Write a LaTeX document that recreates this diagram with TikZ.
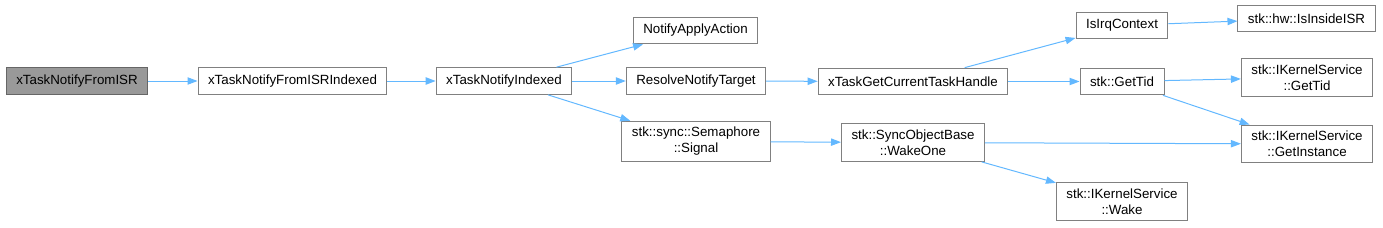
\documentclass[tikz,border=0pt]{standalone}
\usepackage{fontspec}
\setmainfont{Liberation Sans}
\usetikzlibrary{arrows.meta}
\definecolor{cgEdge}{RGB}{99,184,255}
\definecolor{cgLine}{RGB}{128,128,128}
\definecolor{cgRoot}{RGB}{153,153,153}

\begin{document}
\begin{tikzpicture}[x=0.75pt,y=-0.75pt,>={Triangle[length=7.5pt,width=5.5pt]},
  fn/.style={draw=cgLine,fill=white,line width=0.75pt,align=center,inner xsep=7.5pt,inner ysep=4.5pt,
    minimum height=20pt,font=\fontsize{10}{12}\selectfont},
  call/.style={->,draw=cgEdge,line width=0.75pt}]
\useasboundingbox (0,0) rectangle (1383,228);
% callers on the left, callees to the right
\node[fn,fill=cgRoot,draw=black!60] (root) at (77,81) {xTaskNotifyFromISR};
\node[fn] (isrIdx) at (292.5,81) {xTaskNotifyFromISRIndexed};
\node[fn] (notIdx) at (504,81) {xTaskNotifyIndexed};
\node[fn] (applyAct) at (695.5,30.5) {NotifyApplyAction};
\node[fn] (resolve) at (696,81) {ResolveNotifyTarget};
\node[fn] (semSig) at (696,141.5) {stk::sync::Semaphore\\::Signal};
\node[fn] (curTask) at (913,81.5) {xTaskGetCurrentTaskHandle};
\node[fn] (wakeOne) at (913,142.5) {stk::SyncObjectBase\\::WakeOne};
\node[fn] (irqCtx) at (1122,25.5) {IsIrqContext};
\node[fn] (insideISR) at (1306.5,18.5) {stk::hw::IsInsideISR};
\node[fn] (getTid) at (1122,81.5) {stk::GetTid};
\node[fn] (ksGetTid) at (1307,77.5) {stk::IKernelService\\::GetTid};
\node[fn] (ksInst) at (1307,144) {stk::IKernelService\\::GetInstance};
\node[fn] (ksWake) at (1122,201.5) {stk::IKernelService\\::Wake};
% calls
\draw[call] (root) -- (isrIdx);
\draw[call] (isrIdx) -- (notIdx);
\draw[call] (notIdx) -- (applyAct);
\draw[call] (notIdx) -- (resolve);
\draw[call] (notIdx) -- (semSig);
\draw[call] (resolve) -- (curTask);
\draw[call] (semSig) -- (wakeOne);
\draw[call] (curTask) -- (irqCtx);
\draw[call] (curTask) -- (getTid);
\draw[call] (irqCtx) -- (insideISR);
\draw[call] (getTid) -- (ksGetTid);
\draw[call] (getTid) -- (ksInst);
\draw[call] (wakeOne) -- (ksInst);
\draw[call] (wakeOne) -- (ksWake);
\end{tikzpicture}
\end{document}
